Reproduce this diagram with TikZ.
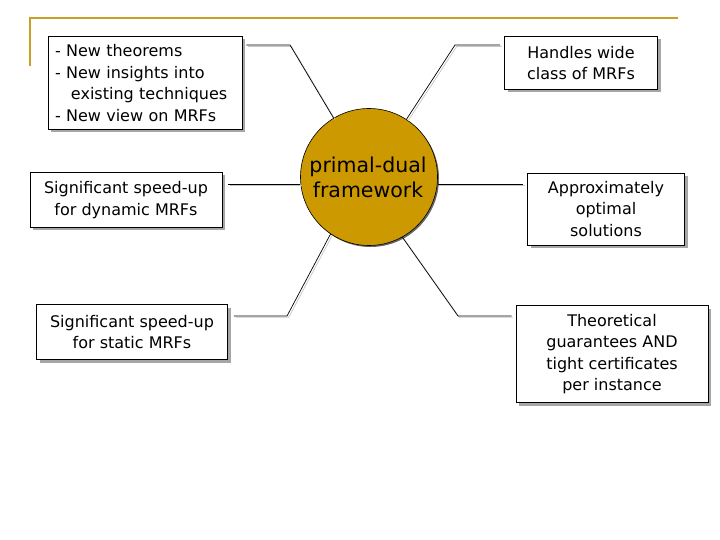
\documentclass[tikz,border=0pt]{standalone}
\usepackage{fontspec}
\setmainfont{DejaVu Sans}
\usetikzlibrary{shadows,positioning}
\definecolor{gold}{RGB}{204,153,0}
\definecolor{framegold}{RGB}{200,160,40}

\begin{document}
\begin{tikzpicture}[x=1pt,y=-1pt,thick,
                    font=\fontsize{16}{21.5}\selectfont]
  \tikzstyle{every node}=[inner sep=4pt]
  \tikzstyle{idea}=[draw=black,fill=white,line width=0.8pt,align=center,
    drop shadow={shadow xshift=3pt,shadow yshift=-3pt,fill=gray!70,opacity=1}]
  \tikzstyle{link}=[draw=black,line width=0.7pt,
    preaction={draw=gray!45,line width=0.7pt,
      transform canvas={shift={(1.6pt,-1.6pt)}}}]

  \useasboundingbox (0,0) rectangle (720,540);
  % title frame
  \draw[framegold,line width=2.5pt] (30,66) -- (30,18) -- (678,18);

  \node[circle,fill=gold,draw=black,line width=0.6pt,minimum size=137pt,inner sep=0pt,
        drop shadow={shadow xshift=1.5pt,shadow yshift=-1.5pt,fill=black!60,opacity=1}]
        (pd) at (369,177) {};
  \node[align=center,font=\fontsize{20.5}{25}\selectfont] (pd_text) at (368,177)
    {primal-dual\\framework};

  \node[idea,align=left,text width=180pt,inner xsep=7pt,minimum height=93pt] (new) at (145,83)
    {- New theorems\\- New insights into\\\ \ \ existing techniques\\- New view on MRFs};
  \node[idea,minimum width=153pt,minimum height=53pt] (wide) at (581,63)
    {Handles wide\\class of MRFs};
  \node[idea,minimum width=192pt,minimum height=55pt] (dyn) at (126,200)
    {Significant speed-up\\for dynamic MRFs};
  \node[idea,minimum width=157pt,minimum height=72pt] (approx) at (606,209)
    {Approximately\\optimal\\solutions};
  \node[idea,minimum width=191pt,minimum height=55pt] (stat) at (132,332)
    {Significant speed-up\\for static MRFs};
  \node[idea,minimum width=192pt,minimum height=97pt] (theo) at (612,354)
    {Theoretical\\guarantees AND\\tight certificates\\per instance};

  \coordinate (k_new) at (290,45);
  \coordinate (k_wide) at (455,45);
  \coordinate (k_stat) at (287,316);
  \coordinate (k_theo) at (458,316);

  \path[link] ([xshift=4pt]new.east |- k_new) -- (k_new) -- (pd.121);
  \path[link] ([xshift=-4pt]wide.west |- k_wide) -- (k_wide) -- (pd.57);
  \path[link] ([xshift=6pt]dyn.east |- 0,184) -- (pd.west |- 0,184);
  \path[link] (pd.east |- 0,184) -- ([xshift=-4pt]approx.west |- 0,184);
  \path[link] ([xshift=6pt]stat.east |- k_stat) -- (k_stat) -- (pd.236);
  \path[link] ([xshift=-4pt]theo.west |- k_theo) -- (k_theo) -- (pd.299);
\end{tikzpicture}
\end{document}
